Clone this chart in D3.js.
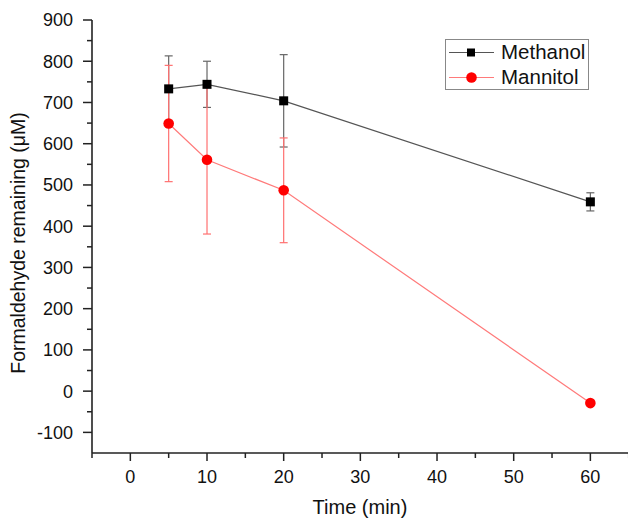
<!DOCTYPE html>
<html>
<head>
<meta charset="utf-8">
<script src="https://cdn.jsdelivr.net/npm/d3@7"></script>
<style>
  html, body { margin: 0; padding: 0; background: #fff; }
  svg { display: block; font-family: "Liberation Sans", Arial, sans-serif; }
</style>
</head>
<body>
<svg id="chart" width="628" height="520"></svg>
<script>
// Time points (min)
const times = [5, 10, 20, 60];
// Formaldehyde remaining (µM) and standard deviations
const methanol = [733, 744, 704, 459];
const methanolErr = [80, 56, 112, 22];
const mannitol = [649, 561, 487, -29];
const mannitolErr = [141, 180, 127, 0];

const xTicks = [0, 10, 20, 30, 40, 50, 60];
const yTicks = [-100, 0, 100, 200, 300, 400, 500, 600, 700, 800, 900];
const seriesNames = ["Methanol", "Mannitol"];

const svg = d3.select("#chart");

const x = d3.scaleLinear().domain([-5, 65]).range([92, 628.7]);
const y = d3.scaleLinear().domain([-150, 900]).range([453, 20]);

const axisColor = "#222";

// Minor ticks halfway between labelled ones
const xMinor = d3.range(-5, 66, 10);
const yMinor = d3.range(-50, 900, 100);

// x axis
const gx = svg.append("g").attr("transform", `translate(0,${y(-150)})`);
gx.append("line").attr("x1", x(-5)).attr("x2", 628).attr("stroke", axisColor).attr("stroke-width", 1.6);
gx.selectAll(".maj").data(xTicks).join("line")
  .attr("x1", d => x(d)).attr("x2", d => x(d)).attr("y1", 0).attr("y2", 8)
  .attr("stroke", axisColor).attr("stroke-width", 1.5);
gx.selectAll(".min").data(xMinor).join("line")
  .attr("x1", d => x(d)).attr("x2", d => x(d)).attr("y1", 0).attr("y2", 5)
  .attr("stroke", axisColor).attr("stroke-width", 1.5);
gx.selectAll("text").data(xTicks).join("text")
  .attr("x", d => x(d)).attr("y", 30).attr("text-anchor", "middle")
  .attr("font-size", 18).attr("fill", "#111").text(d => d);

// y axis
const gy = svg.append("g").attr("transform", `translate(${x(-5)},0)`);
gy.append("line").attr("y1", y(900)).attr("y2", y(-150)).attr("stroke", axisColor).attr("stroke-width", 1.6);
gy.selectAll(".maj").data(yTicks).join("line")
  .attr("y1", d => y(d)).attr("y2", d => y(d)).attr("x1", 0).attr("x2", -9)
  .attr("stroke", axisColor).attr("stroke-width", 1.5);
gy.selectAll(".min").data(yMinor).join("line")
  .attr("y1", d => y(d)).attr("y2", d => y(d)).attr("x1", 0).attr("x2", -5)
  .attr("stroke", axisColor).attr("stroke-width", 1.5);
gy.selectAll("text").data(yTicks).join("text")
  .attr("x", -19).attr("y", d => y(d)).attr("dy", "0.36em").attr("text-anchor", "end")
  .attr("font-size", 18).attr("fill", "#111").text(d => d);

// Axis titles
svg.append("text").attr("x", 360).attr("y", 514).attr("text-anchor", "middle")
  .attr("font-size", 20).attr("fill", "#111").text("Time (min)");
svg.append("text").attr("transform", `translate(25,${243}) rotate(-90)`)
  .attr("text-anchor", "middle").attr("font-size", 19.5).attr("fill", "#111")
  .text("Formaldehyde remaining (μM)");

// Series styling
const series = [
  { name: seriesNames[0], vals: methanol, err: methanolErr, line: "#555", bar: "#666", mark: "#000", shape: "square" },
  { name: seriesNames[1], vals: mannitol, err: mannitolErr, line: "#ff7a7a", bar: "#ff7070", mark: "#ff0000", shape: "circle" }
];

const lineGen = d3.line().x(d => x(d[0])).y(d => y(d[1]));
const capW = 4;

// Error bars
series.forEach(s => {
  const g = svg.append("g");
  const pts = times.map((t, i) => ({ t, v: s.vals[i], e: s.err[i] })).filter(p => p.e > 0);
  g.selectAll(".eb").data(pts).join("line")
    .attr("x1", p => x(p.t)).attr("x2", p => x(p.t))
    .attr("y1", p => y(p.v - p.e)).attr("y2", p => y(p.v + p.e))
    .attr("stroke", s.bar).attr("stroke-width", 1.2);
  ["top", "bot"].forEach(k => {
    g.selectAll(".cap" + k).data(pts).join("line")
      .attr("x1", p => x(p.t) - capW).attr("x2", p => x(p.t) + capW)
      .attr("y1", p => y(k === "top" ? p.v + p.e : p.v - p.e))
      .attr("y2", p => y(k === "top" ? p.v + p.e : p.v - p.e))
      .attr("stroke", s.bar).attr("stroke-width", 1.2);
  });
});

// Lines and markers
series.forEach(s => {
  const g = svg.append("g");
  const pts = times.map((t, i) => [t, s.vals[i]]);
  g.append("path").datum(pts)
    .attr("d", lineGen).attr("fill", "none").attr("stroke", s.line).attr("stroke-width", 1.2);
  if (s.shape === "square") {
    g.selectAll("rect").data(pts).join("rect")
      .attr("x", d => x(d[0]) - 4.5).attr("y", d => y(d[1]) - 4.5)
      .attr("width", 9).attr("height", 9).attr("fill", s.mark);
  } else {
    g.selectAll("circle").data(pts).join("circle")
      .attr("cx", d => x(d[0])).attr("cy", d => y(d[1])).attr("r", 5.3).attr("fill", s.mark);
  }
});

// Legend
const lg = svg.append("g");
lg.append("rect").attr("x", 445.5).attr("y", 39.5).attr("width", 143).attr("height", 50)
  .attr("fill", "#fff").attr("stroke", "#888").attr("stroke-width", 1);
series.forEach((s, i) => {
  const cy = 52.5 + i * 25;
  lg.append("line").attr("x1", 449).attr("x2", 494).attr("y1", cy).attr("y2", cy)
    .attr("stroke", s.line).attr("stroke-width", 1.2);
  if (s.shape === "square") {
    lg.append("rect").attr("x", 467).attr("y", cy - 4).attr("width", 8).attr("height", 8).attr("fill", s.mark);
  } else {
    lg.append("circle").attr("cx", 471.5).attr("cy", cy).attr("r", 5.3).attr("fill", s.mark);
  }
  lg.append("text").attr("x", 501).attr("y", cy + 6.5)
    .attr("font-size", 20.5).attr("fill", "#111").text(s.name);
});
</script>
</body>
</html>
